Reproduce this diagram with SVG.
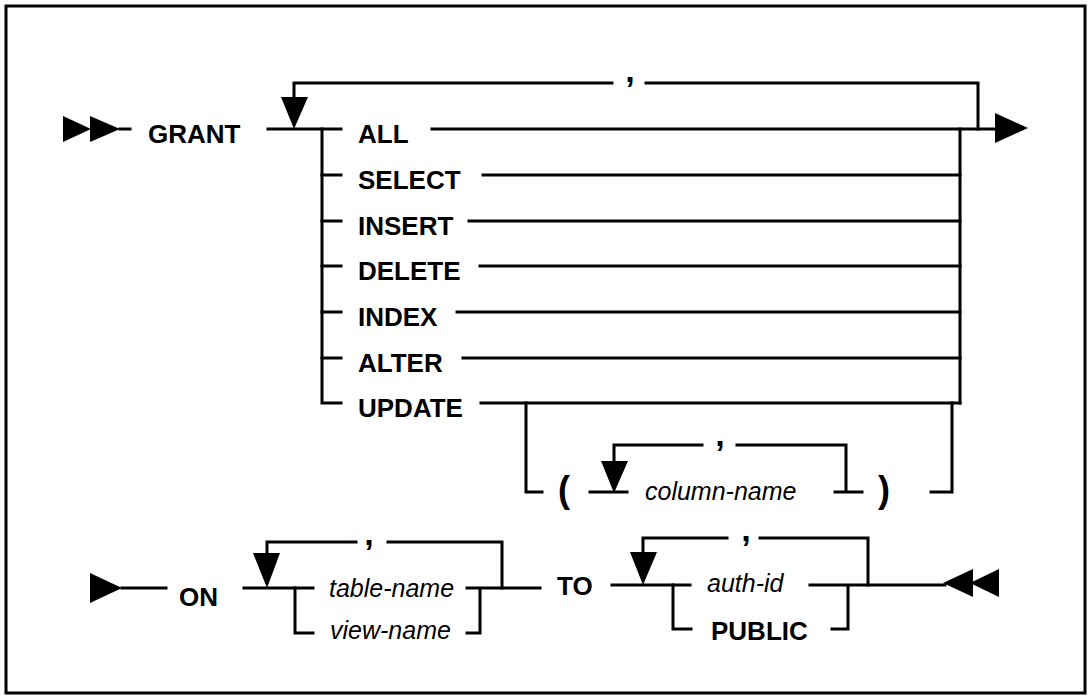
<svg xmlns="http://www.w3.org/2000/svg" width="1091" height="696" viewBox="0 0 1091 696">
  <defs>
    <style>
      .ln { stroke: #000; stroke-width: 3; fill: none; stroke-linecap: square; }
      .frame { stroke: #000; stroke-width: 3; fill: #fff; }
      .ah { fill: #000; stroke: none; }
      .kw { font-family: "Liberation Sans", Arial, sans-serif; font-weight: bold; font-size: 26px; fill: #000; }
      .var { font-family: "Liberation Sans", Arial, sans-serif; font-style: italic; font-size: 25px; fill: #000; }
      .sep { font-family: "Liberation Sans", Arial, sans-serif; font-weight: bold; font-size: 34px; fill: #000; text-anchor: middle; }
      .par { font-family: "Liberation Sans", Arial, sans-serif; font-weight: bold; font-size: 36px; fill: #000; text-anchor: middle; }
    </style>
  </defs>

  <rect width="1091" height="696" fill="#fff"/>
  <rect class="frame" x="6" y="6" width="1079" height="687"/>

  <!-- connectors: rails, branches, repeat loops and arrowheads -->
  <g id="connectors">
    <!-- statement start -->
    <polygon class="ah" points="63,116 91,129 63,142"/>
    <polygon class="ah" points="90,116 120,129 90,142"/>
    <path class="ln" d="M120,129 H130"/>
    <!-- privilege list entry -->
    <path class="ln" d="M268,129 H341"/>
    <!-- repeat loop over privileges -->
    <path class="ln" d="M294,98 V83 H612 M646,83 H978 V129"/>
    <polygon class="ah" points="281,97 308,97 294,129"/>
    <!-- branch rail -->
    <path class="ln" d="M322,129 V403 H341"/>
    <path class="ln" d="M322,175 H341 M322,221 H341 M322,266 H341 M322,312 H341 M322,358 H341"/>
    <!-- branch exits -->
    <path class="ln" d="M432,129 H995"/>
    <path class="ln" d="M483,175 H960 M469,221 H960 M480,266 H960 M457,312 H960 M463,358 H960 M481,403 H960"/>
    <path class="ln" d="M960,129 V403"/>
    <polygon class="ah" points="995,113 1028,128 995,143"/>
    <!-- optional column list under UPDATE -->
    <path class="ln" d="M526,403 V492 H542"/>
    <path class="ln" d="M590,492 H627"/>
    <path class="ln" d="M614,461 V445 H702 M737,445 H846 V492 M835,492 H862"/>
    <polygon class="ah" points="601,461 628,461 614,493"/>
    <path class="ln" d="M931,492 H952 V403"/>

    <!-- continuation line -->
    <polygon class="ah" points="90,573 122,588 90,603"/>
    <path class="ln" d="M122,588 H166"/>
    <path class="ln" d="M244,588 H313"/>
    <path class="ln" d="M267,553 V542 H356 M388,542 H502 V588"/>
    <polygon class="ah" points="253,553 280,553 267,588"/>
    <path class="ln" d="M295,588 V633 H313"/>
    <path class="ln" d="M467,588 H540 M467,633 H480 V588"/>
    <!-- grantee list -->
    <path class="ln" d="M612,585 H690"/>
    <path class="ln" d="M643,552 V538 H727 M760,538 H868 V585"/>
    <polygon class="ah" points="630,552 657,552 643,585"/>
    <path class="ln" d="M673,585 V629 H691"/>
    <path class="ln" d="M810,585 H945 M832,629 H848 V585"/>
    <!-- statement end -->
    <polygon class="ah" points="973,569 943,583 973,597"/>
    <polygon class="ah" points="999,569 970,583 999,597"/>
  </g>

  <!-- separators on repeat loops -->
  <g id="separators">
    <text class="sep" x="630" y="82">,</text>
    <text class="sep" x="720" y="446">,</text>
    <text class="sep" x="369" y="545">,</text>
    <text class="sep" x="746" y="541">,</text>
  </g>

  <g id="grant"><text class="kw" x="148" y="143">GRANT</text></g>
  <g id="all"><text class="kw" x="358" y="143">ALL</text></g>
  <g id="select"><text class="kw" x="358" y="189">SELECT</text></g>
  <g id="insert"><text class="kw" x="358" y="235">INSERT</text></g>
  <g id="delete"><text class="kw" x="358" y="280">DELETE</text></g>
  <g id="index"><text class="kw" x="358" y="326">INDEX</text></g>
  <g id="alter"><text class="kw" x="358" y="372">ALTER</text></g>
  <g id="update"><text class="kw" x="358" y="417">UPDATE</text></g>

  <g id="open-paren"><text class="par" x="564" y="502">(</text></g>
  <g id="column-name"><text class="var" x="645" y="500">column-name</text></g>
  <g id="close-paren"><text class="par" x="884" y="502">)</text></g>

  <g id="on"><text class="kw" x="179" y="606">ON</text></g>
  <g id="table-name"><text class="var" x="329" y="597">table-name</text></g>
  <g id="view-name"><text class="var" x="330" y="639">view-name</text></g>
  <g id="to"><text class="kw" x="557" y="595">TO</text></g>
  <g id="auth-id"><text class="var" x="707" y="592">auth-id</text></g>
  <g id="public"><text class="kw" x="711" y="640">PUBLIC</text></g>
</svg>
